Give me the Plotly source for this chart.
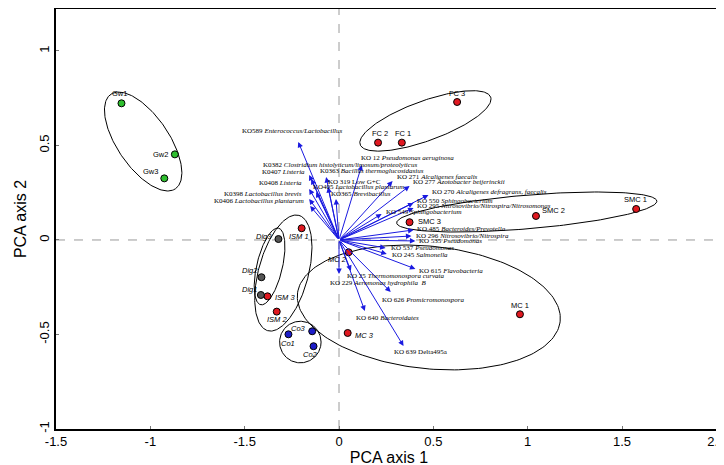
import numpy as np
import plotly.graph_objects as go

# ---------------- data ----------------
sample_names = ["Gw1", "Gw2", "Gw3", "FC 1", "FC 2", "FC 3", "SMC 1", "SMC 2", "SMC 3",
                "MC 1", "MC 2", "MC 3", "ISM 1", "ISM 2", "ISM 3", "Dig3", "Dig2", "Dig1",
                "Co1", "Co3", "Co2"]
sample_x = [-1.153, -0.870, -0.926, 0.333, 0.207, 0.626, 1.575, 1.044, 0.374,
            0.959, 0.051, 0.046, -0.198, -0.330, -0.379, -0.321, -0.411, -0.414,
            -0.268, -0.142, -0.135]
sample_y = [0.723, 0.453, 0.326, 0.515, 0.515, 0.730, 0.164, 0.127, 0.094,
            -0.393, -0.065, -0.492, 0.062, -0.379, -0.298, 0.005, -0.197, -0.291,
            -0.499, -0.483, -0.562]
sample_group = ["Gw", "Gw", "Gw", "Red", "Red", "Red", "Red", "Red", "Red",
                "Red", "Red", "Red", "Red", "Red", "Red", "Dig", "Dig", "Dig",
                "Co", "Co", "Co"]

var_labels = [
    "KO589 <i>Enterococcus/Lactobacillus</i>",
    "K0382 <i>Clostridium histolyticum/limosum/proteolyticus</i>",
    "K0407 <i>Listeria</i>",
    "K0363 <i>Bacillus thermoglucosidasius</i>",
    "K0408 <i>Listeria</i>",
    "KO 319 Low G+C",
    "K0398 <i>Lactobacillus brevis</i>",
    "KO405 <i>Lactobacillus plantarum</i>",
    "K0406 <i>Lactobacillus plantarum</i>",
    "KO365 <i>Brevibacillus</i>",
    "KO 12 <i>Pseudomonas aeruginosa</i>",
    "KO 271 <i>Alcaligenes faecalis</i>",
    "KO 277 <i>Azotobacter beijerinckii</i>",
    "KO 270 <i>Alcaligenes defragrans, faecalis</i>",
    "KO 550 <i>Sphingobacterium</i>",
    "KO 295 <i>Nitrosovibrio/Nitrospira/Nitrosomonas</i>",
    "KO 549 <i>Sphingobacterium</i>",
    "KO 485 <i>Bacteroides/Prevotella</i>",
    "KO 296 <i>Nitrosovibrio/Nitrospira</i>",
    "KO 535 <i>Pseudomonas</i>",
    "KO 537 <i>Pseudomonas</i>",
    "KO 245 <i>Salmonella</i>",
    "KO 615 <i>Flavobacteria</i>",
    "KO 25 <i>Thermomonospora curvata</i>",
    "KO 229 <i>Aeromonas hydrophila  B</i>",
    "KO 626 <i>Promicromonospora</i>",
    "KO 640 <i>Bacteroidates</i>",
    "KO 639 Delta495a",
]
var_x = [-0.216, -0.158, -0.147, -0.068, -0.158, -0.058, -0.158, -0.121, -0.153, -0.016,
         0.121, 0.284, 0.374, 0.474, 0.395, 0.395, 0.226, 0.395, 0.384, 0.405,
         0.247, 0.253, 0.405, 0.063, 0.000, 0.274, 0.137, 0.342]
var_y = [0.519, 0.344, 0.323, 0.333, 0.270, 0.280, 0.217, 0.254, 0.180, 0.217,
         0.397, 0.312, 0.286, 0.238, 0.196, 0.169, 0.138, 0.053, 0.021, -0.005,
         -0.042, -0.074, -0.153, -0.164, -0.180, -0.275, -0.376, -0.561]

# label anchor positions (layout) and alignment
lab_x = [-0.247, -0.411, -0.168, -0.111, -0.184, -0.068, -0.184, -0.147, -0.174, -0.053,
         0.105, 0.295, 0.384, 0.484, 0.405, 0.405, 0.237, 0.405, 0.395, 0.416,
         0.263, 0.268, 0.416, 0.032, -0.058, 0.216, 0.079, 0.279]
lab_y = [0.577, 0.397, 0.360, 0.365, 0.302, 0.307, 0.243, 0.280, 0.206, 0.243,
         0.434, 0.333, 0.307, 0.254, 0.206, 0.180, 0.148, 0.058, 0.021, -0.005,
         -0.042, -0.079, -0.164, -0.190, -0.228, -0.317, -0.413, -0.593]
lab_anchor = ["center", "left", "right", "left", "right", "left", "right", "left", "right", "left",
              "left", "left", "left", "left", "left", "left", "left", "left", "left", "left",
              "left", "left", "left", "left", "left", "left", "left", "left"]

# group ellipses: centre x, centre y, semi-axis a, semi-axis b, angle (deg)
ell_cx = [-1.038, 0.458, 0.995, 0.476, -0.295, -0.368, -0.205]
ell_cy = [0.521, 0.630, 0.148, -0.357, -0.175, -0.140, -0.540]
ell_a = [0.303, 0.368, 0.692, 0.700, 0.316, 0.208, 0.110]
ell_b = [0.137, 0.105, 0.089, 0.324, 0.132, 0.068, 0.110]
ell_ang = [-55.6, 20.0, 4.8, -5.94, 74.9, 76.8, 0.0]

x_tickvals = [-1.5, -1, -0.5, 0, 0.5, 1, 1.5, 2.0]
x_ticktext = ["-1.5", "-1", "-1.5", "0", "0.5", "1", "1.5", "2.0"]
y_tickvals = [-1, -0.5, 0, 0.5, 1]
y_ticktext = ["-1", "-0.5", "0", "0.5", "1"]

# ---------------- styles ----------------
group_color = {"Gw": "#2fbf2f", "Red": "#e01820", "Dig": "#555555", "Co": "#1c1cc8"}
arrow_color = "#1a1ae0"

# point label offsets in px (style/layout)
pt_lab_off = {
    "Gw1": (-2, 10, "center"), "Gw2": (-5, 0, "right"), "Gw3": (-4, 7, "right"),
    "FC 1": (1, 9, "center"), "FC 2": (2, 9, "center"), "FC 3": (0, 9, "center"),
    "SMC 1": (-1, 9, "center"), "SMC 2": (4, 5, "left"), "SMC 3": (6, 1, "left"),
    "MC 1": (0, 9, "center"), "MC 2": (-11, -7, "center"), "MC 3": (5, -3, "left"),
    "ISM 1": (-3, -8, "center"), "ISM 2": (0, -8, "center"), "ISM 3": (5, -1, "left"),
    "Dig3": (-4, 3, "right"), "Dig2": (-1, 7, "right"), "Dig1": (-2, 5, "right"),
    "Co1": (0, -9, "center"), "Co3": (-4, 3, "right"), "Co2": (-3, -8, "center"),
}
italic_pts = {"MC 2", "MC 3", "ISM 1", "ISM 2", "ISM 3", "Dig3", "Dig2", "Dig1", "Co1", "Co3", "Co2"}

fig = go.Figure()

# ellipses
t = np.linspace(0, 2 * np.pi, 200)
for cx, cy, a, b, ang in zip(ell_cx, ell_cy, ell_a, ell_b, ell_ang):
    th = np.deg2rad(ang)
    ex = cx + a * np.cos(t) * np.cos(th) - b * np.sin(t) * np.sin(th)
    ey = cy + a * np.cos(t) * np.sin(th) + b * np.sin(t) * np.cos(th)
    fig.add_trace(go.Scatter(x=ex, y=ey, mode="lines", line=dict(color="black", width=1),
                             hoverinfo="skip", showlegend=False))

annotations = []
# arrows from origin
for vx, vy in zip(var_x, var_y):
    annotations.append(dict(x=vx, y=vy, ax=0, ay=0, xref="x", yref="y", axref="x", ayref="y",
                            text="", showarrow=True, arrowhead=2, arrowsize=1.1, arrowwidth=1,
                            arrowcolor=arrow_color, standoff=0, startstandoff=0))
for txt, lx, ly, anc in zip(var_labels, lab_x, lab_y, lab_anchor):
    annotations.append(dict(x=lx, y=ly, xref="x", yref="y", text=txt, showarrow=False,
                            xanchor=anc, yanchor="middle",
                            font=dict(family="Liberation Serif", size=7, color="black")))

# sample points
fig.add_trace(go.Scatter(
    x=sample_x, y=sample_y, mode="markers",
    marker=dict(size=7, color=[group_color[g] for g in sample_group],
                line=dict(color="black", width=1)),
    hoverinfo="text", text=sample_names, showlegend=False))

for n, sx, sy in zip(sample_names, sample_x, sample_y):
    dx, dy, anc = pt_lab_off[n]
    txt = f"<i>{n}</i>" if n in italic_pts else n
    annotations.append(dict(x=sx, y=sy, xref="x", yref="y", text=txt, showarrow=False,
                            xanchor=anc, yanchor="middle", xshift=dx, yshift=dy,
                            font=dict(family="Liberation Sans", size=7.5, color="black")))

# dashed zero lines
shapes = [
    dict(type="line", xref="x", yref="paper", x0=0, x1=0, y0=0, y1=1,
         line=dict(color="#9a9a9a", width=1, dash="dash"), layer="below"),
    dict(type="line", xref="paper", yref="y", x0=0, x1=1, y0=0, y1=0,
         line=dict(color="#9a9a9a", width=1, dash="dash"), layer="below"),
]

fig.update_layout(
    width=724, height=465,
    margin=dict(l=48, r=10, t=1, b=44),
    plot_bgcolor="white", paper_bgcolor="white",
    annotations=annotations, shapes=shapes,
    font=dict(family="Liberation Sans", color="black"),
    xaxis=dict(range=[-1.5, 2.03], tickvals=x_tickvals, ticktext=x_ticktext, automargin=False,
               showgrid=False, zeroline=False, showline=True, linecolor="black", linewidth=1.5,
               mirror=True, ticks="inside", ticklen=3, tickcolor="#777",
               tickfont=dict(size=13), title=dict(text="PCA axis 1", font=dict(size=16), standoff=0)),
    yaxis=dict(range=[-1, 1.222], tickvals=y_tickvals, ticktext=y_ticktext, tickangle=-90,
               automargin=False,
               showgrid=False, zeroline=False, showline=True, linecolor="black", linewidth=1.5,
               mirror=True, ticks="inside", ticklen=3, tickcolor="#777",
               tickfont=dict(size=13), title=dict(text="PCA axis 2", font=dict(size=16), standoff=6)),
)

fig.write_html("out.html")
